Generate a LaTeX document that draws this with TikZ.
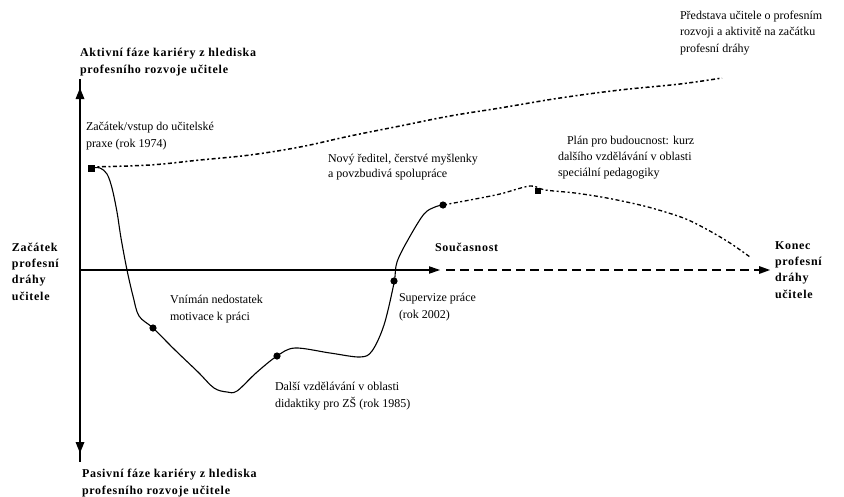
\documentclass[tikz,border=0pt]{standalone}
\usepackage{fontspec}
\setmainfont{Liberation Serif}
\newfontfamily\spbold[LetterSpace=6]{Liberation Serif Bold}

\def \globalscale {1.000000}

\begin{document}
\begin{tikzpicture}[y=1pt, x=1pt, yscale=-\globalscale, xscale=\globalscale, inner sep=0pt, outer sep=0pt,
  lbl/.style={anchor=base west, align=left, font=\fontsize{12}{16.5}\selectfont},
  boldlbl/.style={anchor=base west, align=left, font=\fontsize{12}{16.2}\spbold},
  milestone/.style={fill=black, line width=0.4pt},
  trend/.style={draw=black, line join=round, line width=1.5pt, dash pattern=on 4pt off 2.5pt on 2pt off 2.5pt}]
\useasboundingbox (0,0) rectangle (844,496);

% axes
\coordinate (ytop) at (80,88);
\coordinate (ybot) at (80,453);
\coordinate (xorig) at (80,270);
\coordinate (xnow) at (440,270);
\coordinate (xend) at (770,270);

\path[draw=black,line width=2.6pt] ([yshift=-9]ytop) -- ([yshift=9]ybot);



\path[fill=black] (ytop) -- ++(-4.5,11) -- ++(9,0) -- cycle;



\path[fill=black] (ybot) -- ++(-4.5,-11) -- ++(9,0) -- cycle;



\path[draw=black,line width=1.6pt] (xorig) -- ([xshift=-9]xnow);



\path[fill=black] (xnow) -- ++(-11,-3.8) -- ++(0,7.6) -- cycle;



\path[draw=black,line width=2pt,dash pattern=on 9pt off 5pt] ([xshift=6]xnow) -- ([xshift=-10]xend);



\path[fill=black] (xend) -- ++(-11,-4) -- ++(0,8) -- cycle;



% ideal line
\path[trend] plot[smooth, tension=0.6] coordinates {(91,167) (150,165) (200,160) (250,155) (300,147) (350,136) (400,126) (450,116) (500,108) (560,98) (620,90) (680,84) (722,78)};



% real career curve
\path[draw=black,line join=round,line width=1.1pt] plot[smooth, tension=0.55] coordinates {(91,168) (100,168) (107,174) (112,188) (117,212) (121,238) (127,270) (133,296) (139,316) (153,328) (175,350) (198,372) (214,388) (227,392) (237,391) (256,373) (277,356) (295,348) (330,353) (360,357) (372,351) (384,325) (394,283) (397,262) (409,238) (424,214) (435,207) (443,205)};



\path[trend, line width=1.3pt] plot[smooth, tension=0.55] coordinates {(443,205) (470,200) (500,194) (530,186) (545,190) (575,193) (607,198) (640,205) (662,211) (686,219) (708,230) (730,243) (750,257)};



% milestones
\path[milestone] (91,168) ++(-3.5,-3.5) rectangle ++(7,7);



\path[milestone] (538,191) ++(-3,-3) rectangle ++(6,6);



\path[milestone] (153,328) circle (3.6);



\path[milestone] (277,356) circle (3.6);



\path[milestone] (394,281) circle (3.6);



\path[milestone] (443,205) circle (3.6);



% labels (base = last line)
\path (80,73) node[boldlbl] (active) {Aktivní fáze kariéry z hlediska\\profesního rozvoje učitele};



\path (82,494) node[boldlbl] (passive) {Pasivní fáze kariéry z hlediska\\profesního rozvoje učitele};



\path (12,300) node[boldlbl] (start) {Začátek\\profesní\\dráhy\\učitele};



\path (775,298) node[boldlbl] (end) {Konec\\profesní\\dráhy\\učitele};



\path (435,251) node[boldlbl] (now) {Současnost};



\path (680,52) node[lbl] (idea) {Představa učitele o profesním\\rozvoji a aktivitě na začátku\\profesní dráhy};



\path (86,147) node[lbl] (entry) {Začátek/vstup do učitelské\\praxe (rok 1974)};



\path (328,177) node[lbl, font=\fontsize{12}{14.5}\selectfont] (director) {Nový ředitel, čerstvé myšlenky\\a povzbudivá spolupráce};



\path (558,176) node[lbl, font=\fontsize{12}{16}\selectfont] (plan) {\hspace*{9pt}Plán pro budoucnost: kurz\\dalšího vzdělávání v oblasti\\speciální pedagogiky};



\path (170,320) node[lbl] (motiv) {Vnímán nedostatek\\motivace k práci};



\path (399,318) node[lbl] (superv) {Supervize práce\\(rok 2002)};



\path (275,407) node[lbl] (didact) {Další vzdělávání v oblasti\\didaktiky pro ZŠ (rok 1985)};




\end{tikzpicture}
\end{document}
